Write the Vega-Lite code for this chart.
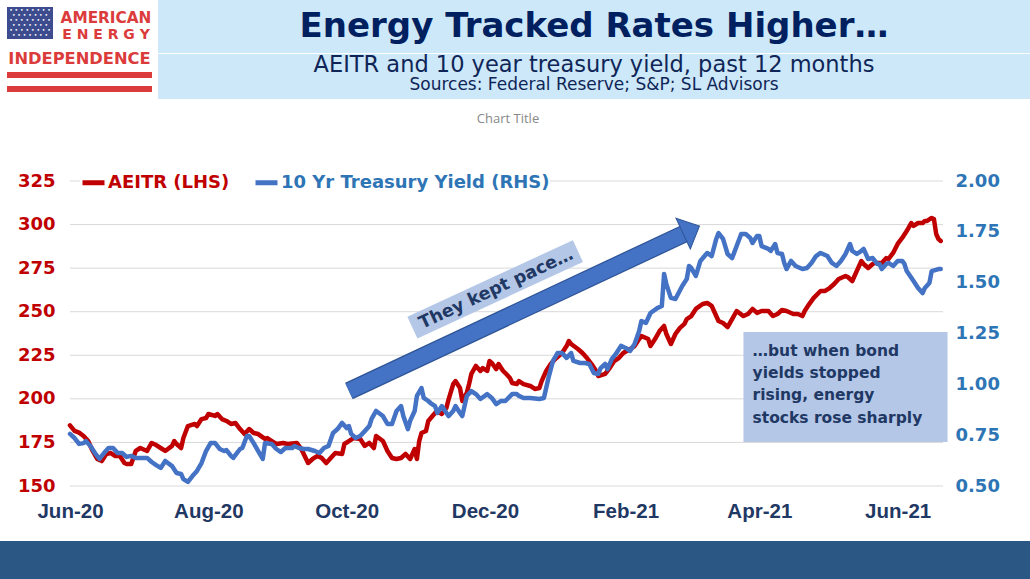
{
  "$schema": "https://vega.github.io/schema/vega-lite/v6.json",
  "padding": 0,
  "background": "white",
  "config": {"view": {"stroke": null}},
  "datasets": {
    "aeitr": [
      {"date":"2020-06-01","v":184.8},{"date":"2020-06-03","v":181.6},{"date":"2020-06-05","v":180.6},{"date":"2020-06-07","v":178.7},{"date":"2020-06-09","v":175.8},{"date":"2020-06-11","v":170.1},{"date":"2020-06-13","v":165.5},{"date":"2020-06-15","v":164.3},{"date":"2020-06-17","v":168.4},{"date":"2020-06-19","v":168.9},{"date":"2020-06-21","v":167.2},{"date":"2020-06-23","v":167.2},{"date":"2020-06-25","v":163.2},{"date":"2020-06-26","v":162.6},{"date":"2020-06-28","v":162.6},{"date":"2020-06-30","v":170.1},
      {"date":"2020-07-02","v":171.8},{"date":"2020-07-05","v":170.1},{"date":"2020-07-07","v":174.7},{"date":"2020-07-09","v":173.5},{"date":"2020-07-11","v":171.8},{"date":"2020-07-13","v":170.1},{"date":"2020-07-16","v":173.0},{"date":"2020-07-17","v":175.8},{"date":"2020-07-18","v":174.1},{"date":"2020-07-20","v":171.8},{"date":"2020-07-21","v":177.5},{"date":"2020-07-23","v":184.4},{"date":"2020-07-26","v":185.6},{"date":"2020-07-27","v":184.4},{"date":"2020-07-29","v":188.4},{"date":"2020-07-31","v":189.0},
      {"date":"2020-08-01","v":191.3},{"date":"2020-08-04","v":190.2},{"date":"2020-08-05","v":191.3},{"date":"2020-08-07","v":188.4},{"date":"2020-08-09","v":187.3},{"date":"2020-08-11","v":185.6},{"date":"2020-08-13","v":186.1},{"date":"2020-08-15","v":182.7},{"date":"2020-08-17","v":179.8},{"date":"2020-08-19","v":182.7},{"date":"2020-08-21","v":180.4},{"date":"2020-08-23","v":179.8},{"date":"2020-08-26","v":177.0},{"date":"2020-08-27","v":177.5},{"date":"2020-08-29","v":175.8},{"date":"2020-08-31","v":174.1},
      {"date":"2020-09-03","v":174.7},{"date":"2020-09-05","v":174.1},{"date":"2020-09-09","v":174.7},{"date":"2020-09-11","v":171.2},{"date":"2020-09-14","v":163.2},{"date":"2020-09-16","v":165.5},{"date":"2020-09-18","v":167.2},{"date":"2020-09-20","v":166.1},{"date":"2020-09-22","v":163.2},{"date":"2020-09-24","v":166.1},{"date":"2020-09-26","v":168.9},{"date":"2020-09-29","v":168.4},{"date":"2020-09-30","v":174.1},
      {"date":"2020-10-02","v":175.8},{"date":"2020-10-04","v":177.5},{"date":"2020-10-07","v":177.0},{"date":"2020-10-09","v":173.0},{"date":"2020-10-11","v":174.7},{"date":"2020-10-13","v":171.8},{"date":"2020-10-14","v":178.7},{"date":"2020-10-17","v":175.8},{"date":"2020-10-19","v":170.1},{"date":"2020-10-21","v":166.1},{"date":"2020-10-23","v":165.5},{"date":"2020-10-25","v":166.1},{"date":"2020-10-27","v":168.4},{"date":"2020-10-29","v":165.5},{"date":"2020-10-31","v":171.2},
      {"date":"2020-11-01","v":165.5},{"date":"2020-11-02","v":175.8},{"date":"2020-11-03","v":180.4},{"date":"2020-11-05","v":181.6},{"date":"2020-11-06","v":187.3},{"date":"2020-11-09","v":191.9},{"date":"2020-11-10","v":193.0},{"date":"2020-11-12","v":191.3},{"date":"2020-11-14","v":194.8},{"date":"2020-11-15","v":199.9},{"date":"2020-11-17","v":208.5},{"date":"2020-11-18","v":210.2},{"date":"2020-11-20","v":206.2},{"date":"2020-11-21","v":198.8},{"date":"2020-11-23","v":203.4},{"date":"2020-11-24","v":208.5},{"date":"2020-11-25","v":214.3},{"date":"2020-11-27","v":218.9},{"date":"2020-11-29","v":216.0},{"date":"2020-11-30","v":217.7},
      {"date":"2020-12-02","v":216.0},{"date":"2020-12-03","v":221.7},{"date":"2020-12-04","v":220.6},{"date":"2020-12-06","v":217.1},{"date":"2020-12-07","v":220.0},{"date":"2020-12-09","v":216.0},{"date":"2020-12-10","v":214.8},{"date":"2020-12-12","v":212.0},{"date":"2020-12-13","v":209.1},{"date":"2020-12-15","v":208.5},{"date":"2020-12-16","v":210.2},{"date":"2020-12-18","v":208.5},{"date":"2020-12-21","v":207.4},{"date":"2020-12-23","v":205.7},{"date":"2020-12-25","v":206.2},{"date":"2020-12-26","v":210.2},{"date":"2020-12-28","v":216.0},{"date":"2020-12-30","v":220.0},
      {"date":"2021-01-01","v":222.9},{"date":"2021-01-04","v":226.3},{"date":"2021-01-06","v":230.3},{"date":"2021-01-07","v":233.2},{"date":"2021-01-08","v":231.5},{"date":"2021-01-11","v":228.6},{"date":"2021-01-13","v":226.3},{"date":"2021-01-15","v":223.4},{"date":"2021-01-17","v":220.0},{"date":"2021-01-19","v":216.0},{"date":"2021-01-20","v":213.1},{"date":"2021-01-23","v":214.3},{"date":"2021-01-25","v":217.7},{"date":"2021-01-27","v":221.7},{"date":"2021-01-29","v":223.4},{"date":"2021-01-31","v":226.3},
      {"date":"2021-02-03","v":228.6},{"date":"2021-02-05","v":230.3},{"date":"2021-02-07","v":234.3},{"date":"2021-02-08","v":236.1},{"date":"2021-02-11","v":234.3},{"date":"2021-02-12","v":230.3},{"date":"2021-02-14","v":234.3},{"date":"2021-02-16","v":238.9},{"date":"2021-02-18","v":241.8},{"date":"2021-02-19","v":237.2},{"date":"2021-02-21","v":231.5},{"date":"2021-02-23","v":237.2},{"date":"2021-02-25","v":240.7},{"date":"2021-02-27","v":243.0},{"date":"2021-02-28","v":245.8},
      {"date":"2021-03-02","v":247.5},{"date":"2021-03-04","v":251.6},{"date":"2021-03-07","v":254.4},{"date":"2021-03-09","v":255.0},{"date":"2021-03-11","v":253.3},{"date":"2021-03-12","v":250.4},{"date":"2021-03-14","v":244.7},{"date":"2021-03-16","v":243.5},{"date":"2021-03-18","v":241.2},{"date":"2021-03-20","v":245.8},{"date":"2021-03-22","v":250.4},{"date":"2021-03-25","v":247.5},{"date":"2021-03-27","v":248.7},{"date":"2021-03-29","v":251.6},{"date":"2021-03-31","v":249.3},
      {"date":"2021-04-02","v":250.4},{"date":"2021-04-05","v":250.4},{"date":"2021-04-07","v":247.5},{"date":"2021-04-09","v":248.7},{"date":"2021-04-11","v":251.0},{"date":"2021-04-13","v":250.4},{"date":"2021-04-16","v":248.7},{"date":"2021-04-18","v":248.7},{"date":"2021-04-20","v":247.5},{"date":"2021-04-21","v":250.4},{"date":"2021-04-23","v":254.4},{"date":"2021-04-25","v":257.9},{"date":"2021-04-28","v":261.9},{"date":"2021-04-30","v":261.9},
      {"date":"2021-05-02","v":263.6},{"date":"2021-05-04","v":265.9},{"date":"2021-05-06","v":268.8},{"date":"2021-05-09","v":270.5},{"date":"2021-05-10","v":269.9},{"date":"2021-05-12","v":267.6},{"date":"2021-05-14","v":273.4},{"date":"2021-05-16","v":279.1},{"date":"2021-05-17","v":277.4},{"date":"2021-05-19","v":275.1},{"date":"2021-05-21","v":277.4},{"date":"2021-05-22","v":278.0},{"date":"2021-05-23","v":278.0},{"date":"2021-05-25","v":278.0},{"date":"2021-05-27","v":280.8},{"date":"2021-05-28","v":280.3},{"date":"2021-05-30","v":283.7},
      {"date":"2021-06-01","v":288.9},{"date":"2021-06-03","v":292.3},{"date":"2021-06-05","v":296.3},{"date":"2021-06-07","v":300.9},{"date":"2021-06-08","v":299.2},{"date":"2021-06-10","v":300.9},{"date":"2021-06-12","v":300.9},{"date":"2021-06-13","v":302.1},{"date":"2021-06-14","v":302.1},{"date":"2021-06-16","v":303.8},{"date":"2021-06-17","v":303.2},{"date":"2021-06-18","v":294.6},{"date":"2021-06-19","v":291.7},{"date":"2021-06-20","v":290.6}
    ],
    "tsy": [
      {"date":"2020-06-01","y":0.756},{"date":"2020-06-03","y":0.736},{"date":"2020-06-05","y":0.707},{"date":"2020-06-07","y":0.711},{"date":"2020-06-08","y":0.721},{"date":"2020-06-10","y":0.697},{"date":"2020-06-12","y":0.662},{"date":"2020-06-14","y":0.633},{"date":"2020-06-16","y":0.662},{"date":"2020-06-18","y":0.687},{"date":"2020-06-20","y":0.687},{"date":"2020-06-22","y":0.662},{"date":"2020-06-24","y":0.662},{"date":"2020-06-26","y":0.643},{"date":"2020-06-28","y":0.648},{"date":"2020-06-30","y":0.638},
      {"date":"2020-07-02","y":0.638},{"date":"2020-07-05","y":0.638},{"date":"2020-07-07","y":0.618},{"date":"2020-07-09","y":0.603},{"date":"2020-07-11","y":0.589},{"date":"2020-07-13","y":0.623},{"date":"2020-07-16","y":0.598},{"date":"2020-07-18","y":0.564},{"date":"2020-07-20","y":0.559},{"date":"2020-07-21","y":0.534},{"date":"2020-07-23","y":0.520},{"date":"2020-07-25","y":0.549},{"date":"2020-07-27","y":0.574},{"date":"2020-07-29","y":0.613},{"date":"2020-07-31","y":0.672},
      {"date":"2020-08-02","y":0.711},{"date":"2020-08-04","y":0.711},{"date":"2020-08-06","y":0.682},{"date":"2020-08-08","y":0.672},{"date":"2020-08-09","y":0.677},{"date":"2020-08-11","y":0.648},{"date":"2020-08-12","y":0.638},{"date":"2020-08-15","y":0.682},{"date":"2020-08-16","y":0.687},{"date":"2020-08-18","y":0.746},{"date":"2020-08-19","y":0.746},{"date":"2020-08-21","y":0.711},{"date":"2020-08-23","y":0.672},{"date":"2020-08-25","y":0.633},{"date":"2020-08-26","y":0.711},{"date":"2020-08-29","y":0.707},{"date":"2020-08-31","y":0.682},
      {"date":"2020-09-02","y":0.667},{"date":"2020-09-04","y":0.687},{"date":"2020-09-07","y":0.687},{"date":"2020-09-08","y":0.697},{"date":"2020-09-10","y":0.687},{"date":"2020-09-12","y":0.682},{"date":"2020-09-14","y":0.682},{"date":"2020-09-17","y":0.672},{"date":"2020-09-19","y":0.662},{"date":"2020-09-21","y":0.687},{"date":"2020-09-23","y":0.697},{"date":"2020-09-25","y":0.761},{"date":"2020-09-27","y":0.780},{"date":"2020-09-29","y":0.810},
      {"date":"2020-10-01","y":0.785},{"date":"2020-10-02","y":0.795},{"date":"2020-10-03","y":0.756},{"date":"2020-10-05","y":0.736},{"date":"2020-10-07","y":0.746},{"date":"2020-10-09","y":0.770},{"date":"2020-10-11","y":0.795},{"date":"2020-10-12","y":0.830},{"date":"2020-10-14","y":0.869},{"date":"2020-10-17","y":0.844},{"date":"2020-10-19","y":0.805},{"date":"2020-10-21","y":0.805},{"date":"2020-10-23","y":0.869},{"date":"2020-10-25","y":0.893},{"date":"2020-10-26","y":0.844},{"date":"2020-10-28","y":0.780},{"date":"2020-10-29","y":0.820},{"date":"2020-10-31","y":0.869},
      {"date":"2020-11-01","y":0.943},{"date":"2020-11-03","y":0.982},{"date":"2020-11-04","y":0.933},{"date":"2020-11-06","y":0.918},{"date":"2020-11-07","y":0.908},{"date":"2020-11-09","y":0.893},{"date":"2020-11-10","y":0.859},{"date":"2020-11-12","y":0.893},{"date":"2020-11-14","y":0.859},{"date":"2020-11-15","y":0.844},{"date":"2020-11-17","y":0.869},{"date":"2020-11-18","y":0.893},{"date":"2020-11-20","y":0.859},{"date":"2020-11-21","y":0.844},{"date":"2020-11-23","y":0.943},{"date":"2020-11-25","y":0.967},{"date":"2020-11-27","y":0.952},{"date":"2020-11-29","y":0.928},
      {"date":"2020-12-02","y":0.952},{"date":"2020-12-04","y":0.933},{"date":"2020-12-06","y":0.903},{"date":"2020-12-08","y":0.918},{"date":"2020-12-10","y":0.918},{"date":"2020-12-13","y":0.952},{"date":"2020-12-15","y":0.952},{"date":"2020-12-16","y":0.943},{"date":"2020-12-18","y":0.933},{"date":"2020-12-21","y":0.933},{"date":"2020-12-25","y":0.928},{"date":"2020-12-27","y":0.933},{"date":"2020-12-29","y":1.031},{"date":"2020-12-31","y":1.115},
      {"date":"2021-01-02","y":1.154},{"date":"2021-01-04","y":1.154},{"date":"2021-01-06","y":1.130},{"date":"2021-01-08","y":1.154},{"date":"2021-01-09","y":1.115},{"date":"2021-01-12","y":1.105},{"date":"2021-01-14","y":1.105},{"date":"2021-01-16","y":1.100},{"date":"2021-01-18","y":1.056},{"date":"2021-01-20","y":1.051},{"date":"2021-01-21","y":1.080},{"date":"2021-01-23","y":1.100},{"date":"2021-01-24","y":1.075},{"date":"2021-01-26","y":1.125},{"date":"2021-01-28","y":1.154},{"date":"2021-01-30","y":1.189},
      {"date":"2021-02-01","y":1.179},{"date":"2021-02-03","y":1.164},{"date":"2021-02-05","y":1.198},{"date":"2021-02-07","y":1.262},{"date":"2021-02-08","y":1.311},{"date":"2021-02-10","y":1.302},{"date":"2021-02-12","y":1.351},{"date":"2021-02-15","y":1.375},{"date":"2021-02-17","y":1.385},{"date":"2021-02-18","y":1.543},{"date":"2021-02-19","y":1.493},{"date":"2021-02-21","y":1.425},{"date":"2021-02-23","y":1.420},{"date":"2021-02-26","y":1.484},{"date":"2021-02-28","y":1.518},
      {"date":"2021-03-01","y":1.582},{"date":"2021-03-02","y":1.572},{"date":"2021-03-04","y":1.533},{"date":"2021-03-06","y":1.607},{"date":"2021-03-09","y":1.646},{"date":"2021-03-11","y":1.631},{"date":"2021-03-13","y":1.715},{"date":"2021-03-14","y":1.744},{"date":"2021-03-16","y":1.715},{"date":"2021-03-18","y":1.641},{"date":"2021-03-20","y":1.621},{"date":"2021-03-22","y":1.680},{"date":"2021-03-24","y":1.739},{"date":"2021-03-26","y":1.739},{"date":"2021-03-28","y":1.720},{"date":"2021-03-29","y":1.695},{"date":"2021-03-31","y":1.730},
      {"date":"2021-04-01","y":1.730},{"date":"2021-04-02","y":1.680},{"date":"2021-04-05","y":1.666},{"date":"2021-04-06","y":1.656},{"date":"2021-04-08","y":1.690},{"date":"2021-04-09","y":1.646},{"date":"2021-04-11","y":1.641},{"date":"2021-04-12","y":1.597},{"date":"2021-04-13","y":1.567},{"date":"2021-04-15","y":1.607},{"date":"2021-04-17","y":1.582},{"date":"2021-04-20","y":1.567},{"date":"2021-04-22","y":1.572},{"date":"2021-04-24","y":1.597},{"date":"2021-04-26","y":1.631},{"date":"2021-04-28","y":1.646},
      {"date":"2021-05-01","y":1.631},{"date":"2021-05-03","y":1.597},{"date":"2021-05-05","y":1.582},{"date":"2021-05-07","y":1.607},{"date":"2021-05-09","y":1.641},{"date":"2021-05-11","y":1.690},{"date":"2021-05-12","y":1.656},{"date":"2021-05-14","y":1.641},{"date":"2021-05-16","y":1.656},{"date":"2021-05-17","y":1.666},{"date":"2021-05-19","y":1.616},{"date":"2021-05-21","y":1.621},{"date":"2021-05-23","y":1.592},{"date":"2021-05-24","y":1.592},{"date":"2021-05-25","y":1.567},{"date":"2021-05-27","y":1.592},{"date":"2021-05-28","y":1.597},{"date":"2021-05-30","y":1.582},
      {"date":"2021-06-01","y":1.607},{"date":"2021-06-03","y":1.607},{"date":"2021-06-04","y":1.592},{"date":"2021-06-05","y":1.557},{"date":"2021-06-08","y":1.508},{"date":"2021-06-10","y":1.474},{"date":"2021-06-12","y":1.449},{"date":"2021-06-13","y":1.474},{"date":"2021-06-15","y":1.498},{"date":"2021-06-16","y":1.557},{"date":"2021-06-19","y":1.567},{"date":"2021-06-20","y":1.567}
    ],
    "grid": [{"g":150},{"g":175},{"g":200},{"g":225},{"g":250},{"g":275},{"g":300},{"g":325}],
    "arrow": [{"start":"2020-10-02","startV":204.5,"end":"2021-02-27","endV":294.8,"head":"2021-03-02","headV":297.0}],
    "band": [{"from":"2020-10-30","fromV":240.9,"to":"2021-01-11","toV":284.8,"mid":"2020-12-06","midV":263.0,"label":"They kept pace…"}],
    "note": [{"left":"2021-03-25","right":"2021-06-23","top":238.4,"bottom":175.2,"tx":"2021-03-29","ty":231.6,"label":"…but when bond\nyields stopped\nrising, energy\nstocks rose sharply"}]
  },
  "columns": 1,
  "spacing": 0,
  "concat": [
    {
      "spacing": 0,
      "hconcat": [
        {
          "spacing": 0,
          "hconcat": [
            {"width": 7, "height": 98, "data": {"values": []}, "mark": "point"},
            {
              "spacing": 0,
              "vconcat": [
                {"width": 145, "height": 7, "data": {"values": []}, "mark": "point"},
                {
                  "spacing": 0,
                  "hconcat": [
                    {"width": 46, "height": 32, "view": {"fill": "#3D4B8F"},
                     "data": {"values": [{"t": "• • • • • • • •\n• • • • • • •\n• • • • • • • •\n• • • • • • •\n• • • • • • • •\n• • • • • • •"}]},
                     "mark": {"type": "text", "lineBreak": "\n", "baseline": "top", "color": "white", "fontSize": 6, "lineHeight": 5, "font": "DejaVu Sans"},
                     "encoding": {
                       "text": {"field": "t", "type": "nominal"},
                       "y": {"datum": 1, "type": "quantitative", "scale": {"domain": [0, 1]}, "axis": null}
                     }},
                    {"width": 7, "height": 32, "data": {"values": []}, "mark": "point"},
                    {
                      "spacing": 0,
                      "vconcat": [
                        {"width": 92, "height": 21, "data": {"values": [{"t": "AMERICAN"}]},
                         "mark": {"type": "text", "font": "DejaVu Sans", "fontWeight": "bold", "fontSize": 15.3, "color": "#DC3B3B"},
                         "encoding": {"text": {"field": "t", "type": "nominal"}}},
                        {"width": 92, "height": 14, "data": {"values": [{"t": "E N E R G Y"}]},
                         "mark": {"type": "text", "font": "DejaVu Sans", "fontWeight": "bold", "fontSize": 14, "color": "#DC3B3B"},
                         "encoding": {"text": {"field": "t", "type": "nominal"}}}
                      ]
                    }
                  ]
                },
                {"width": 145, "height": 8, "data": {"values": []}, "mark": "point"},
                {"width": 145, "height": 17, "data": {"values": [{"t": "INDEPENDENCE"}]},
                 "mark": {"type": "text", "font": "DejaVu Sans", "fontWeight": "bold", "fontSize": 16.3, "color": "#DC3B3B"},
                 "encoding": {"text": {"field": "t", "type": "nominal"}}},
                {"width": 145, "height": 5, "data": {"values": []}, "mark": "point"},
                {"width": 145, "height": 6, "view": {"fill": "#DC3B3B"}, "data": {"values": []}, "mark": "point"},
                {"width": 145, "height": 8, "data": {"values": []}, "mark": "point"},
                {"width": 145, "height": 6, "view": {"fill": "#DC3B3B"}, "data": {"values": []}, "mark": "point"},
                {"width": 145, "height": 6, "data": {"values": []}, "mark": "point"}
              ]
            },
            {"width": 6, "height": 98, "data": {"values": []}, "mark": "point"}
          ]
        },
        {
          "spacing": 0,
          "vconcat": [
            {"width": 872, "height": 53, "view": {"fill": "#CCE8F9"},
             "data": {"values": [{"t": "Energy Tracked Rates Higher…"}]},
             "mark": {"type": "text", "font": "DejaVu Sans", "fontWeight": "bold", "fontSize": 34, "color": "#002060"},
             "encoding": {"text": {"field": "t", "type": "nominal"}}},
            {"width": 872, "height": 45, "view": {"fill": "#CCE8F9"},
             "layer": [
               {"data": {"values": [{"t": "AEITR and 10 year treasury yield, past 12 months"}]},
                "mark": {"type": "text", "font": "DejaVu Sans", "fontSize": 22.5, "color": "#0F2557", "baseline": "bottom"},
                "encoding": {"text": {"field": "t", "type": "nominal"}}},
               {"data": {"values": [{"t": "Sources: Federal Reserve; S&P; SL Advisors"}]},
                "mark": {"type": "text", "font": "DejaVu Sans", "fontSize": 17, "color": "#0F2557", "baseline": "top"},
                "encoding": {"text": {"field": "t", "type": "nominal"}}}
             ]}
          ]
        }
      ]
    },
    {"width": 1016, "height": 40, "data": {"values": [{"t": "Chart Title"}]},
     "mark": {"type": "text", "font": "Open Sans", "fontSize": 13, "color": "#898989"},
     "encoding": {"text": {"field": "t", "type": "nominal"}}},
    {"width": 1030, "height": 32.5, "data": {"values": []}, "mark": "point"},
    {
      "width": 943,
      "height": 305,
      "layer": [
        {
          "layer": [
            {
              "data": {"name": "grid"},
              "mark": {"type": "rule", "color": "#D9D9D9", "strokeWidth": 1},
              "encoding": {
                "x": {"datum": {"year": 2020, "month": 6, "date": 1}, "type": "temporal", "axis": {"title": null}},
                "x2": {"datum": {"year": 2021, "month": 6, "date": 21}},
                "y": {"field": "g", "type": "quantitative", "axis": {"title": null}}
              }
            },
            {
              "data": {"name": "note"},
              "mark": {"type": "rect", "color": "#B4C7E7", "opacity": 1},
              "encoding": {
                "x": {"field": "left", "type": "temporal", "axis": {"title": null}},
                "x2": {"field": "right"},
                "y": {"field": "top", "type": "quantitative", "axis": {"title": null}},
                "y2": {"field": "bottom"}
              }
            },
            {
              "data": {"name": "note"},
              "mark": {"type": "text", "align": "left", "baseline": "top", "lineBreak": "\n", "lineHeight": 22.3, "font": "DejaVu Sans", "fontWeight": "bold", "fontSize": 15.5, "color": "#1F3864"},
              "encoding": {
                "x": {"field": "tx", "type": "temporal", "axis": {"title": null}},
                "y": {"field": "ty", "type": "quantitative", "axis": {"title": null}},
                "text": {"field": "label", "type": "nominal"}
              }
            },
            {
              "data": {"name": "band"},
              "mark": {"type": "rule", "color": "#B4C7E7", "strokeWidth": 24, "strokeCap": "butt"},
              "encoding": {
                "x": {"field": "from", "type": "temporal", "axis": {"title": null}},
                "x2": {"field": "to"},
                "y": {"field": "fromV", "type": "quantitative", "axis": {"title": null}},
                "y2": {"field": "toV"}
              }
            },
            {
              "data": {"name": "band"},
              "mark": {"type": "text", "angle": 335, "font": "DejaVu Sans", "fontWeight": "bold", "fontSize": 17.5, "color": "#1F3864"},
              "encoding": {
                "x": {"field": "mid", "type": "temporal", "axis": {"title": null}},
                "y": {"field": "midV", "type": "quantitative", "axis": {"title": null}},
                "text": {"field": "label", "type": "nominal"}
              }
            },
            {
              "data": {"name": "arrow"},
              "mark": {"type": "rule", "color": "#2F5597", "strokeWidth": 18, "strokeCap": "butt"},
              "encoding": {
                "x": {"field": "start", "type": "temporal", "axis": {"title": null}},
                "x2": {"field": "end"},
                "y": {"field": "startV", "type": "quantitative", "axis": {"title": null}},
                "y2": {"field": "endV"}
              }
            },
            {
              "data": {"name": "arrow"},
              "mark": {"type": "rule", "color": "#4472C4", "strokeWidth": 15.5, "strokeCap": "butt"},
              "encoding": {
                "x": {"field": "start", "type": "temporal", "axis": {"title": null}},
                "x2": {"field": "end"},
                "y": {"field": "startV", "type": "quantitative", "axis": {"title": null}},
                "y2": {"field": "endV"}
              }
            },
            {
              "data": {"name": "arrow"},
              "mark": {"type": "point", "shape": "M -0.53 -1 L 0.53 0 L -0.53 1 Z", "size": 1156, "angle": 335, "filled": true, "fill": "#4472C4", "stroke": "#2F5597", "strokeWidth": 1, "opacity": 1},
              "encoding": {
                "x": {"field": "head", "type": "temporal", "axis": {"title": null}},
                "y": {"field": "headV", "type": "quantitative", "axis": {"title": null}}
              }
            },
            {
              "data": {"name": "aeitr"},
              "mark": {"type": "line", "strokeWidth": 4.5, "strokeJoin": "round", "strokeCap": "round"},
              "encoding": {
                "x": {
                  "field": "date", "type": "temporal",
                  "scale": {"domain": [{"year": 2020, "month": 5, "date": 1, "hours": 3, "minutes": 8}, {"year": 2021, "month": 6, "date": 21}]},
                  "axis": {
                    "orient": "bottom", "title": null, "format": "%b-%y", "grid": false, "ticks": false, "tickSize": 0, "domain": false,
                    "labelFlush": false, "labelOverlap": false, "labelPadding": 15,
                    "labelFont": "Liberation Sans", "labelFontWeight": "bold", "labelFontSize": 20.5, "labelColor": "#1F3864",
                    "values": [
                      {"year": 2020, "month": 6, "date": 1}, {"year": 2020, "month": 8, "date": 1}, {"year": 2020, "month": 10, "date": 1},
                      {"year": 2020, "month": 12, "date": 1}, {"year": 2021, "month": 2, "date": 1}, {"year": 2021, "month": 4, "date": 1},
                      {"year": 2021, "month": 6, "date": 1}
                    ]
                  }
                },
                "y": {
                  "field": "v", "type": "quantitative",
                  "scale": {"domain": [150, 325], "nice": false, "zero": false},
                  "axis": {
                    "orient": "left", "offset": -70, "title": null, "values": [150, 175, 200, 225, 250, 275, 300, 325],
                    "grid": false, "ticks": false, "tickSize": 0, "domain": false, "minExtent": 0,
                    "labelPadding": 15, "labelFont": "DejaVu Sans", "labelFontWeight": "bold", "labelFontSize": 18, "labelColor": "#C00000"
                  }
                },
                "color": {
                  "datum": "AEITR (LHS)", "type": "nominal",
                  "scale": {"domain": ["AEITR (LHS)", "10 Yr Treasury Yield (RHS)"], "range": ["#C00000", "#4472C4"]},
                  "legend": {
                    "orient": "none", "legendX": 80, "legendY": 169, "direction": "horizontal", "title": null,
                    "symbolType": "stroke", "symbolStrokeWidth": 5, "symbolSize": 484,
                    "labelFont": "DejaVu Sans", "labelFontSize": 18, "labelFontWeight": "bold", "labelLimit": 400,
                    "labelOffset": 1, "columnPadding": 15, "fillColor": "white", "padding": 0,
                    "encode": {"labels": {"update": {"fill": {"signal": "datum.label === 'AEITR (LHS)' ? '#C00000' : '#2E75B6'"}}}}
                  }
                }
              }
            }
          ]
        },
        {
          "data": {"name": "tsy"},
          "mark": {"type": "line", "strokeWidth": 4.5, "strokeJoin": "round", "strokeCap": "round"},
          "encoding": {
            "x": {"field": "date", "type": "temporal", "axis": {"title": null}},
            "y": {
              "field": "y", "type": "quantitative",
              "scale": {"domain": [0.5, 2.0], "nice": false, "zero": false},
              "axis": {
                "orient": "right", "title": null, "values": [0.5, 0.75, 1, 1.25, 1.5, 1.75, 2], "format": ".2f",
                "grid": false, "ticks": false, "tickSize": 0, "domain": false, "labelPadding": 12,
                "labelFont": "DejaVu Sans", "labelFontWeight": "bold", "labelFontSize": 18, "labelColor": "#2E75B6"
              }
            },
            "color": {
              "datum": "10 Yr Treasury Yield (RHS)", "type": "nominal",
              "scale": {"domain": ["AEITR (LHS)", "10 Yr Treasury Yield (RHS)"], "range": ["#C00000", "#4472C4"]}
            }
          }
        }
      ],
      "resolve": {"scale": {"y": "independent"}}
    },
    {"width": 1030, "height": 19, "data": {"values": []}, "mark": "point"},
    {"width": 1030, "height": 38, "view": {"fill": "#2B5784"}, "data": {"values": []}, "mark": "point"}
  ]
}
